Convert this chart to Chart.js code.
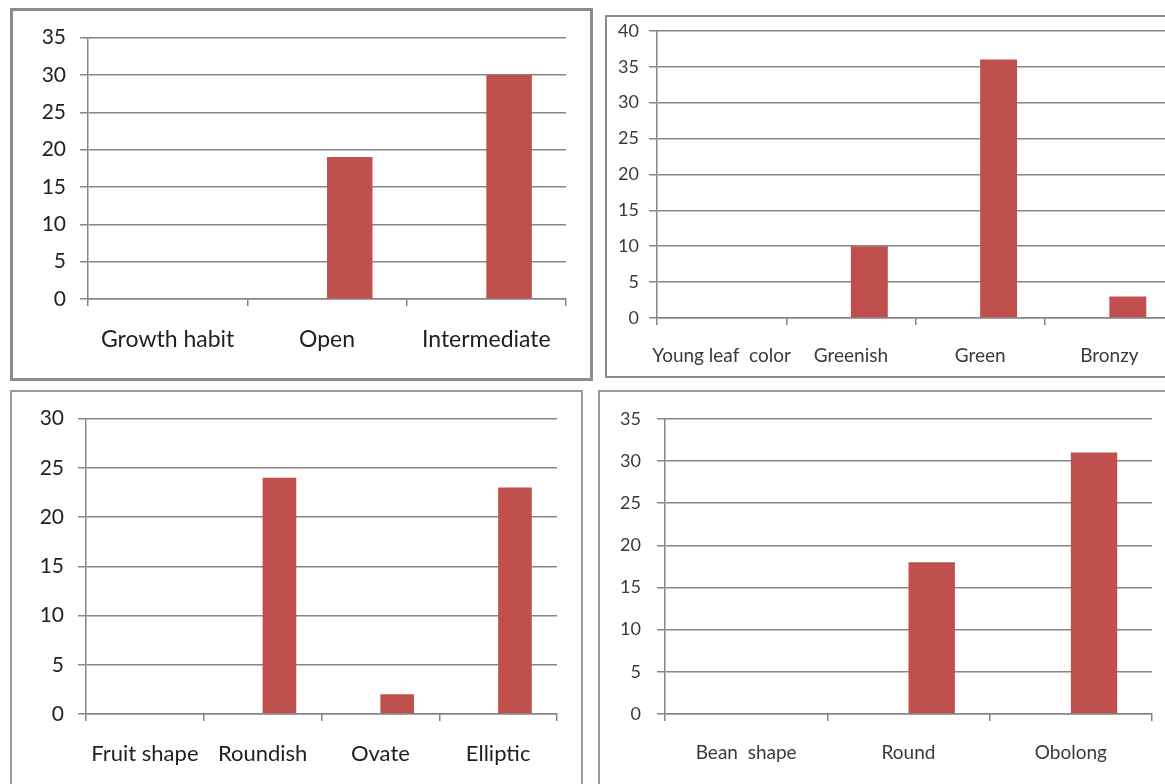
<!DOCTYPE html>
<html>
<head>
<meta charset="utf-8">
<script src="https://cdn.jsdelivr.net/npm/chart.js@4.4.1/dist/chart.umd.min.js"></script>
<style>
  html, body { margin: 0; padding: 0; background: #ffffff; width: 1165px; height: 784px; overflow: hidden; position: relative; }
  .box { position: absolute; box-sizing: border-box; background: #fff; }
  .box canvas { position: absolute; left: 0; top: 0; }
</style>
</head>
<body>
<div class="box" id="b1" style="left:10px;top:8px;width:583px;height:373px;border:3px solid #8c8c8c;"><canvas id="c1"></canvas></div>
<div class="box" id="b2" style="left:605px;top:15px;width:620px;height:363px;border:2px solid #8c8c8c;"><canvas id="c2" style="top:-7px"></canvas></div>
<div class="box" id="b3" style="left:10px;top:390px;width:573px;height:410px;border:2px solid #9a9a9a;"><canvas id="c3"></canvas></div>
<div class="box" id="b4" style="left:598px;top:390px;width:620px;height:410px;border:2px solid #9a9a9a;"><canvas id="c4"></canvas></div>
<script>
// ---- data ----
const growthCategories = ["Growth habit", "Open", "Intermediate"];
const growthValues = [null, 19, 30];
const growthMax = 35;

const leafCategories = ["Young leaf  color", "Greenish", "Green", "Bronzy"];
const leafValues = [null, 10, 36, 3];
const leafMax = 40;

const fruitCategories = ["Fruit shape", "Roundish", "Ovate", "Elliptic"];
const fruitValues = [null, 24, 2, 23];
const fruitMax = 30;

const beanCategories = ["Bean  shape", "Round", "Obolong"];
const beanValues = [null, 18, 31];
const beanMax = 35;

const yStep = 5;
const barColor = "#C0504D";
const gridColor = "#868686";

function makeChart(id, w, h, cats, vals, ymax, lay) {
  const cv = document.getElementById(id);
  cv.width = w; cv.height = h;
  cv.style.width = w + "px"; cv.style.height = h + "px";
  return new Chart(cv, {
    type: "bar",
    data: {
      labels: cats,
      datasets: [
        { label: "blank", data: cats.map(() => null), backgroundColor: "rgba(0,0,0,0)" },
        { label: "count", data: vals, backgroundColor: barColor, borderWidth: 0 }
      ]
    },
    options: {
      responsive: false,
      animation: false,
      devicePixelRatio: 1,
      categoryPercentage: 2 / 3.5,
      barPercentage: 1,
      layout: { padding: { left: 0, top: lay.top, right: lay.right, bottom: 0 } },
      plugins: { legend: { display: false }, tooltip: { enabled: false }, title: { display: false } },
      scales: {
        x: {
          offset: true,
          grid: { offset: true, drawOnChartArea: false, drawTicks: true, tickLength: lay.xTick, color: gridColor, lineWidth: 1.5 },
          border: { display: true, color: gridColor, width: 1.5 },
          ticks: { color: lay.color, font: { family: lay.font, size: lay.xSize }, padding: lay.xPad, maxRotation: 0, autoSkip: false },
          afterFit: (s) => { s.height = lay.xH; }
        },
        y: {
          min: 0, max: ymax,
          grid: { color: gridColor, lineWidth: 1.5, drawTicks: true, tickLength: 8 },
          border: { display: true, color: gridColor, width: 1.5 },
          ticks: { stepSize: yStep, color: lay.color, font: { family: lay.font, size: lay.ySize }, padding: lay.yPad },
          afterFit: (s) => { s.width = lay.yW; }
        }
      }
    }
  });
}

const fam = "Lato, 'Noto Sans', sans-serif";

// panel 1
makeChart("c1", 577, 367, growthCategories, growthValues, growthMax,
  { top: 24, right: 24, yW: 75, xH: 79, xTick: 7, xPad: 20, yPad: 14, xSize: 23, ySize: 21, font: fam, color: "#1f1f1f" });

// panel 2
makeChart("c2", 616, 366, leafCategories, leafValues, leafMax,
  { top: 9, right: 49, yW: 50, xH: 58, xTick: 7, xPad: 19, yPad: 10, xSize: 19, ySize: 18, font: fam, color: "#3a3a3a" });

// panel 3
makeChart("c3", 569, 406, fruitCategories, fruitValues, fruitMax,
  { top: 25, right: 24, yW: 74, xH: 84, xTick: 7, xPad: 20, yPad: 14, xSize: 22, ySize: 21, font: fam, color: "#1f1f1f" });

// panel 4
makeChart("c4", 616, 406, beanCategories, beanValues, beanMax,
  { top: 25, right: 64, yW: 65, xH: 84, xTick: 7, xPad: 20, yPad: 16, xSize: 19, ySize: 18, font: fam, color: "#3a3a3a" });
</script>
</body>
</html>
